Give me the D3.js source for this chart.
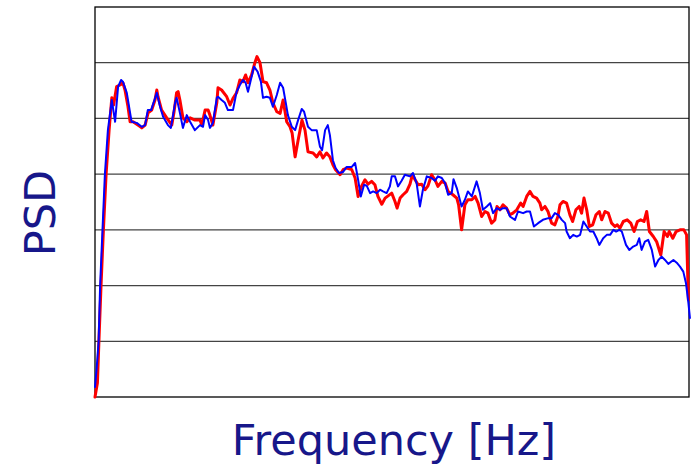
<!DOCTYPE html>
<html>
<head>
<meta charset="utf-8">
<script src="https://cdn.jsdelivr.net/npm/d3@7"></script>
<style>
    body { margin: 0; background: #fff; }
    svg { display: block; }
    .grid { stroke: #444; stroke-width: 1.3; }
    .frame { fill: none; stroke: #000; stroke-width: 1.3; }
    .psd { fill: none; stroke-linejoin: round; stroke-linecap: round; }
    .axis-label { fill: #17178a; font-family: "DejaVu Sans", Verdana, sans-serif; font-size: 43px; }
</style>
</head>
<body>
<svg width="691" height="466"></svg>
<script>
// spectra (arbitrary units)
const redFreq = [0,0.8,1.3,2.0,2.8,3.7,4.7,5.6,6.2,7.2,8.3,9.3,10.0,11.0,11.7,12.7,14.3,15.6,16.7,17.7,18.9,20.0,20.6,21.0,22.2,23.9,25.6,26.3,27.2,27.7,28.3,29.3,30.6,31.7,33.3,35.0,35.6,36.7,37.7,38.3,39.3,40.6,41.0,42.2,43.9,45.0,46.0,47.2,48.3,49.3,50.2,51.0,52.2,53.3,54.0,55.0,56.0,57.2,58.3,59.3,60.6,61.7,62.7,63.9,65.0,65.7,66.7,67.7,69.0,70.0,71.0,72.7,73.9,75.0,76.0,77.2,78.3,79.3,80.2,81.7,82.7,83.9,85.6,86.7,87.7,88.9,90.0,91.0,92.2,93.3,94.3,95.6,96.7,97.7,98.9,100.0,100.7,101.7,102.7,103.9,105.0,105.8,106.7,107.7,108.9,110.0,111.0,112.2,113.3,114.3,115.6,116.7,117.7,119.3,120.6,121.2,122.2,123.3,124.3,125.6,126.7,127.7,128.9,130.0,131.0,132.2,133.3,134.0,135.0,136.0,137.2,138.3,139.3,140.6,141.9,142.7,143.9,145.0,146.0,147.2,148.3,148.9,150.0,151.0,152.2,153.3,154.3,155.0,156.0,157.2,158.3,159.2,160.3,161.4,162.2,163.0,163.9,164.8,165.9,167.0,168.1,168.9,170.0,171.1,172.2,173.3,174.1,175.0,176.1,177.4,178.6,179.7,180.8,181.9,183.0,183.9,184.8,186.1,187.2,188.6,189.7,190.8,191.4,192.6,193.7,195.0,196.3,197.2,197.8];
const redPsd = [0,2.5,9.9,19.9,30.0,40.0,47.9,53.7,52.4,55.7,56.0,56.4,55.1,52.1,49.4,49.4,48.8,48.3,48.8,51.0,51.5,53.3,55.1,53.9,51.5,50.1,48.8,51.0,54.6,54.8,53.3,50.1,49.4,50.1,49.7,49.7,48.8,51.5,51.5,50.6,48.8,52.8,55.5,55.1,53.9,52.4,53.6,54.6,56.9,56.6,57.8,56.4,57.8,60.0,61.1,60.0,56.6,56.4,55.1,52.8,51.2,50.9,53.3,49.4,48.5,47.4,43.1,46.1,49.7,47.9,44.0,43.8,43.1,44.0,42.9,43.8,43.1,41.7,40.8,39.9,40.8,41.1,40.8,39.3,36.0,37.9,39.0,38.2,38.7,38.1,36.0,34.6,35.7,36.1,36.6,35.1,33.9,35.7,36.3,36.9,38.2,39.9,39.0,38.1,38.2,37.2,37.9,39.9,39.0,37.8,38.7,38.4,36.9,36.3,35.7,34.5,30.0,34.5,35.4,35.4,36.0,34.8,32.4,33.3,33.0,31.2,31.8,34.2,33.6,34.5,33.9,32.7,33.0,33.6,34.8,34.2,36.0,36.9,36.0,35.7,34.8,33.6,34.2,33.3,31.2,30.9,32.4,34.5,35.1,34.8,32.7,31.5,33.6,34.2,33.0,35.7,33.6,30.6,30.9,32.7,33.3,31.8,33.3,33.0,31.2,30.6,30.9,30.3,31.5,31.8,31.2,29.7,31.5,31.8,31.5,33.3,29.7,28.8,27.9,25.5,29.7,28.8,29.7,28.5,29.7,30.0,30.0,29.1,17.4];

const blueFreq = [0,0.5,1.2,1.7,2.5,3.3,4.3,5.6,6.7,7.7,8.7,9.3,10.6,11.7,12.2,13.9,15.6,16.7,17.6,18.7,20.0,20.6,21.7,22.7,24.3,25.3,26.7,27.2,28.3,29.3,30.6,31.7,33.3,35.0,36.0,36.7,37.7,38.3,39.3,40.6,41.0,42.2,43.3,44.3,46.0,47.2,48.3,49.3,50.2,51.0,52.2,53.0,54.2,55.3,56.0,57.2,58.3,59.3,60.6,61.7,62.7,63.6,64.3,65.6,66.7,67.7,68.9,69.7,71.0,72.2,73.9,75.0,75.7,76.7,77.6,78.3,79.3,80.2,81.3,82.7,83.9,85.6,86.7,87.7,88.6,89.7,90.6,91.7,92.7,93.9,95.0,96.0,97.2,98.3,98.9,100.0,101.0,102.2,103.3,105.0,106.0,107.2,108.3,109.3,110.6,112.2,113.3,114.3,115.6,116.7,117.7,118.9,119.5,120.6,122.2,123.3,124.3,125.6,127.2,128.3,129.3,130.6,131.7,132.7,133.9,135.0,136.0,137.2,138.3,140.0,141.0,142.7,143.9,145.0,146.3,147.7,149.3,151.1,152.2,153.3,154.4,155.6,156.7,157.2,158.3,159.4,160.6,161.7,162.8,163.9,165.0,166.1,167.2,168.1,169.4,170.6,171.7,172.8,173.7,174.8,175.6,177.0,178.1,179.4,180.6,181.4,182.2,183.3,184.4,185.6,186.7,187.8,188.9,190.0,191.1,192.8,193.9,195.0,196.1,197.0,197.8,198.3];
const bluePsd = [1.8,4.8,9.9,19.9,30.0,40.0,47.9,53.3,49.4,55.7,56.9,56.6,54.6,51.0,49.4,49.2,48.5,48.8,51.5,51.5,53.6,54.6,52.1,50.3,48.8,48.3,52.8,53.7,51.0,48.3,50.6,49.4,47.9,48.8,48.5,50.6,49.7,48.3,49.2,53.7,53.9,53.3,52.8,51.5,51.5,54.8,56.0,56.9,56.4,54.8,57.5,59.3,58.4,56.6,53.7,53.9,53.7,52.1,54.2,56.4,55.5,52.8,50.6,48.5,47.9,49.7,51.7,51.2,48.5,47.9,47.9,44.9,44.3,47.9,48.8,47.0,42.5,41.1,40.2,40.4,41.3,41.3,42.0,39.0,36.0,38.1,37.9,36.6,36.9,36.6,37.2,36.9,36.6,37.8,39.6,39.6,37.8,38.8,39.9,39.6,40.2,38.4,34.2,37.2,39.6,39.3,38.8,39.6,39.3,38.4,36.3,36.6,39.1,37.5,34.2,35.4,36.9,36.0,38.7,36.6,33.6,34.2,34.8,33.0,33.9,33.6,33.9,33.9,32.4,31.8,33.3,33.0,33.3,33.3,30.6,31.2,31.8,32.1,32.1,33.0,32.7,31.8,31.2,29.7,28.5,29.1,28.8,29.1,31.5,30.6,29.7,29.7,28.5,27.3,28.5,29.1,29.1,30.0,29.7,30.0,29.7,27.3,26.4,27.0,27.3,28.5,26.4,27.9,28.2,26.4,23.4,24.6,25.2,24.6,23.9,24.6,24.1,23.4,22.5,20.4,16.9,14.2];

const gridLevels = [10, 20, 30, 40, 50, 60];

const xScale = d3.scaleLinear()
    .domain([0, 198])
    .range([95, 689]);

const yScale = d3.scaleLinear()
    .domain([0, 70])
    .range([397, 7]);

const lineFunction = d3.line()
    .x((d) => xScale(d[0]))
    .y((d) => yScale(d[1]));

const series = [
    { name: "red", color: "#ff0000", width: 3, points: d3.zip(redFreq, redPsd) },
    { name: "blue", color: "#0000ff", width: 2, points: d3.zip(blueFreq, bluePsd) }
];

const svg = d3.select("svg");

svg.selectAll(".grid")
    .data(gridLevels)
    .enter().append("line")
    .attr("class", "grid")
    .attr("x1", xScale(0))
    .attr("x2", xScale(198))
    .attr("y1", (d) => yScale(d))
    .attr("y2", (d) => yScale(d));

svg.append("rect")
    .attr("class", "frame")
    .attr("x", xScale(0))
    .attr("y", yScale(70))
    .attr("width", xScale(198) - xScale(0))
    .attr("height", yScale(0) - yScale(70));

svg.selectAll(".psd")
    .data(series)
    .enter().append("path")
    .attr("class", "psd")
    .attr("d", (d) => lineFunction(d.points))
    .style("stroke", (d) => d.color)
    .style("stroke-width", (d) => d.width);

svg.append("text")
    .attr("class", "axis-label")
    .attr("x", 394)
    .attr("y", 455)
    .attr("text-anchor", "middle")
    .text("Frequency [Hz]");

svg.append("text")
    .attr("class", "axis-label")
    .attr("transform", "translate(55,213) rotate(-90)")
    .attr("text-anchor", "middle")
    .text("PSD");
</script>
</body>
</html>
